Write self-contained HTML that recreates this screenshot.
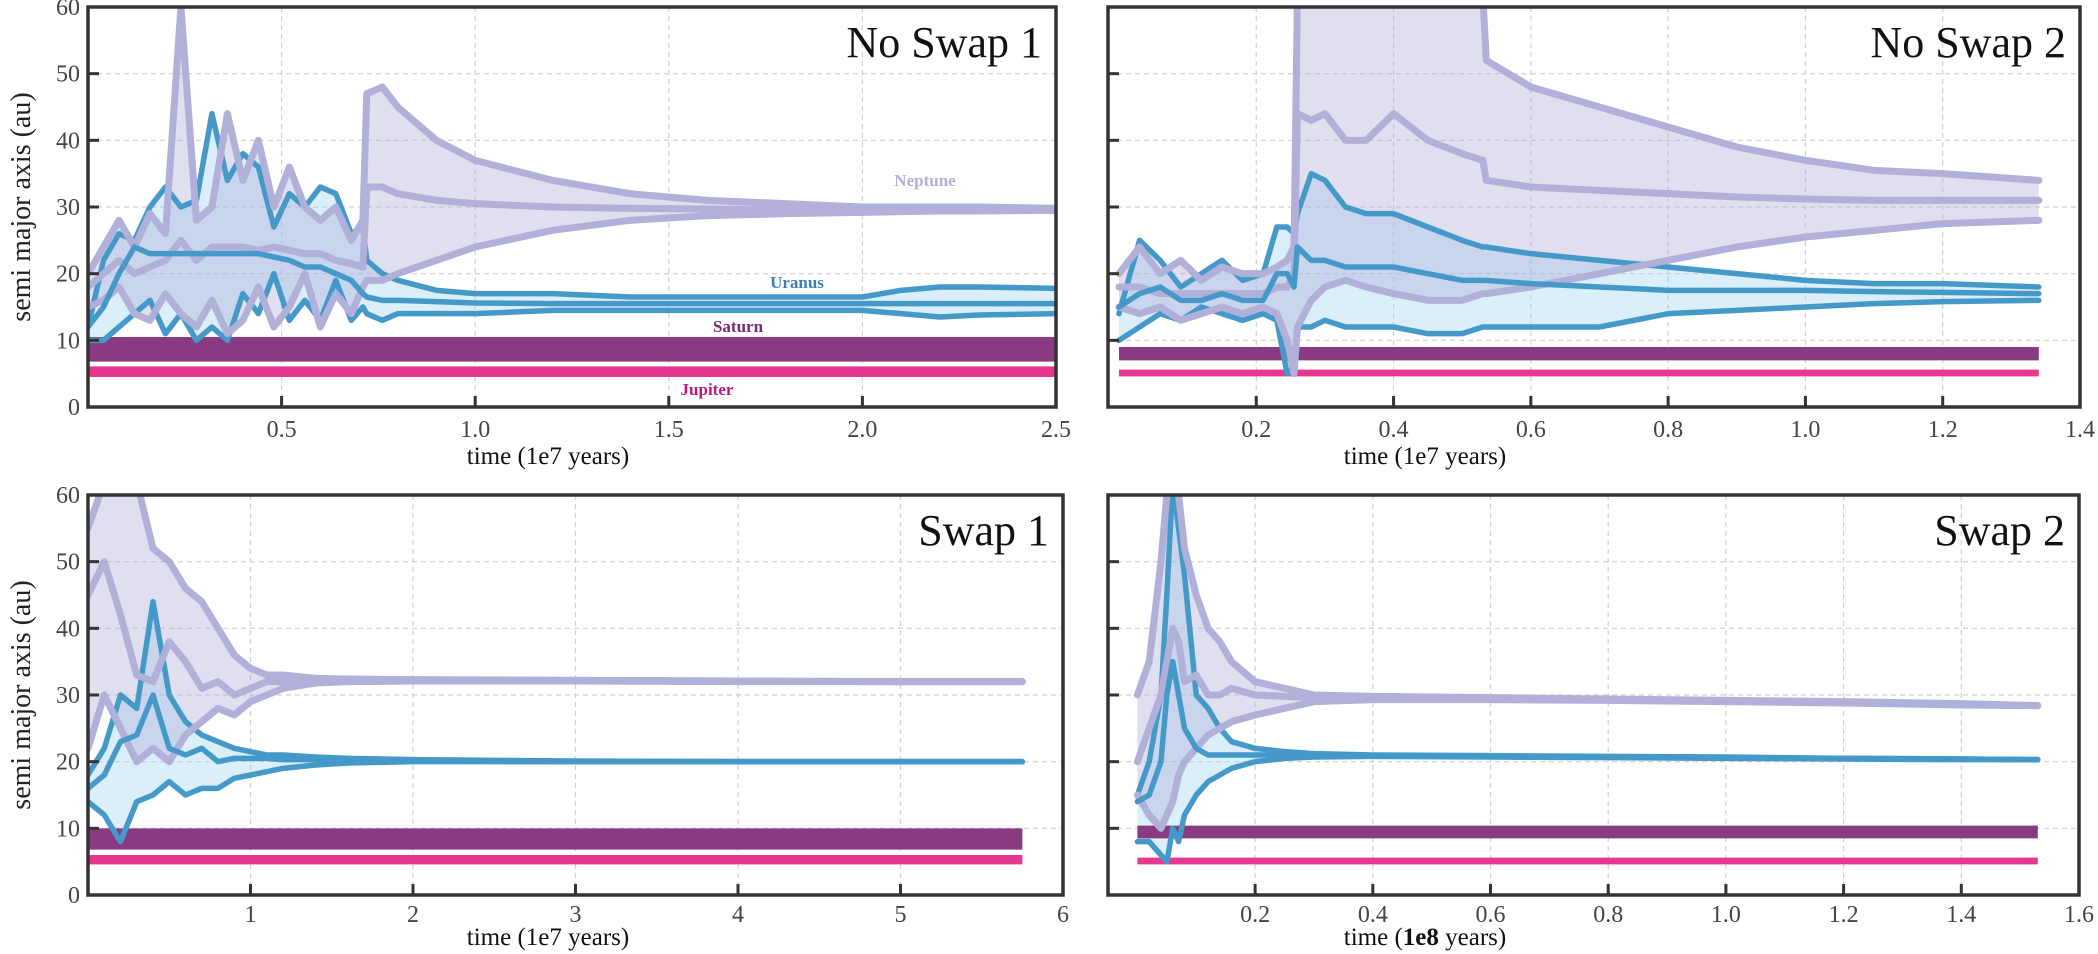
<!DOCTYPE html>
<html><head><meta charset="utf-8"><style>
html,body{margin:0;padding:0;background:#fff;}
svg{display:block;font-family:"Liberation Serif",serif;}
</style></head><body>
<svg id="fig" width="2098" height="954" viewBox="0 0 2098 954" xmlns="http://www.w3.org/2000/svg"></svg>
<script>
// ---------- Panel 1: No Swap 1 ----------
const t1 = [0,0.04,0.08,0.12,0.16,0.2,0.24,0.28,0.32,0.36,0.4,0.44,0.48,0.52,0.56,0.6,0.64,0.68,0.71,0.72,0.76,0.8,0.9,1.0,1.2,1.4,1.6,1.8,2.0,2.1,2.2,2.3,2.5];
const p1NepHi = [20,24,28,24,29,26,60,28,30,44,34,40,30,36,30,28,30,25,28,47,48,45,40,37,34,32,31,30.5,30,30,30,30,29.8];
const p1NepA  = [18,20,22,20,21,22,25,22,24,24,24,23.5,24,23.5,23,23,22,21.5,21,33,33,32,31,30.5,30,29.8,29.7,29.6,29.5,29.5,29.5,29.5,29.5];
const p1NepLo = [15,16,18,14,13,17,14,12,16,11,13,18,12,15,20,12,17,14,18,19,19,20,22,24,26.5,28,28.7,29,29.2,29.3,29.4,29.4,29.5];
const p1UraHi = [12,22,26,25,30,33,30,31,44,34,38,36,27,32,30,33,32,26,27,22,20,19,17.5,17,17,16.5,16.5,16.5,16.5,17.5,18,18,17.8];
const p1UraA  = [12,15,20,24,23,23,23,23,23,23,23,23,22.5,22,21,21,20,19,17,16.5,16,16,15.8,15.6,15.5,15.5,15.5,15.5,15.5,15.5,15.5,15.5,15.5];
const p1UraLo = [10,10,12,14,16,11,14,10,12,10,17,14,20,13,16,13,19,13,15,14,13,14,14,14,14.5,14.5,14.5,14.5,14.5,14,13.5,13.8,14];
const p1BandT = [0,2.5];
const p1SatHi = [10.5,10.5];
const p1SatLo = [6.8,6.8];
const p1JupHi = [6.1,6.1];
const p1JupLo = [4.5,4.5];
// ---------- Panel 2: No Swap 2 ----------
const t2 = [0,0.03,0.06,0.09,0.12,0.15,0.18,0.21,0.23,0.245,0.255,0.26,0.28,0.3,0.33,0.36,0.4,0.45,0.5,0.53,0.535,0.6,0.7,0.8,0.9,1.0,1.1,1.2,1.34];
const p2NepHi = [20,24,20,22,19,21,20,20,21,22,24,62,62,62,62,62,62,62,62,62,52,48,45,42,39,37,35.5,35,34];
const p2NepA  = [18,18,17,17,17,17,17,17,18,18,20,44,43,44,40,40,44,40,38,37,34,33,32.5,32,31.5,31.2,31,31,31];
const p2NepLo = [15,14,15,13,14,15,14,15,14,10,5,12,16,18,19,18,17,16,16,17,17,18,20,22,24,25.5,26.5,27.5,28];
const p2UraHi = [14,25,22,18,20,22,19,20,27,27,26,29,35,34,30,29,29,27,25,24,24,23,22,21,20,19,18.5,18.5,18];
const p2UraA  = [15,17,18,16,16,17,16,16,20,20,18,24,22,22,21,21,21,20,19,19,19,18.5,18,17.5,17.5,17.5,17.3,17.2,17];
const p2UraLo = [10,12,14,13,15,14,13,14,13,5,6,12,12,13,12,12,12,11,11,12,12,12,12,14,14.5,15,15.5,15.8,16];
const p2BandT = [0,1.34];
const p2SatHi = [9,9];
const p2SatLo = [7,7];
const p2JupHi = [5.6,5.6];
const p2JupLo = [4.6,4.6];
// ---------- Panel 3: Swap 1 ----------
const t3 = [0,0.1,0.2,0.3,0.4,0.5,0.6,0.7,0.8,0.9,1.0,1.1,1.2,1.4,1.6,2,3,4,5,5.75];
const p3NepHi = [55,62,62,62,52,50,46,44,40,36,34,33,33,32.5,32.4,32.3,32.2,32.1,32,32];
const p3NepA  = [45,50,42,33,32,38,35,31,32,30,31,32,32,32.3,32.3,32.2,32.2,32.1,32,32];
const p3NepLo = [22,30,25,20,22,20,24,26,28,27,29,30,31,31.8,32,32.1,32.1,32,32,32];
const p3UraHi = [18,22,30,28,44,30,26,24,23,22,21.5,21,21,20.7,20.5,20.3,20.1,20,20,20];
const p3UraA  = [16,18,23,24,30,22,21,22,20,20.5,20.5,20.5,20.3,20.3,20.2,20.1,20,20,20,20];
const p3UraLo = [14,12,8,14,15,17,15,16,16,17.5,18,18.5,19,19.5,19.8,20,20,20,20,20];
const p3BandT = [0,5.75];
const p3SatHi = [10,10];
const p3SatLo = [6.8,6.8];
const p3JupHi = [6,6];
const p3JupLo = [4.6,4.6];
// ---------- Panel 4: Swap 2 ----------
const t4 = [0,0.02,0.04,0.05,0.06,0.07,0.08,0.1,0.12,0.14,0.16,0.2,0.25,0.3,0.4,0.6,0.8,1.0,1.2,1.4,1.53];
const p4NepHi = [30,35,50,60,62,60,52,45,40,38,35,32,31,30,29.8,29.6,29.4,29.2,29,28.7,28.4];
const p4NepA  = [20,25,30,35,40,38,32,33,30,30,31,30,29.8,29.6,29.5,29.4,29.3,29.1,28.9,28.6,28.4];
const p4NepLo = [15,12,10,12,14,18,20,22,24,25,26,27,28,29,29.3,29.3,29.2,29,28.8,28.5,28.4];
const p4UraHi = [15,20,30,45,62,55,48,30,28,25,23,22,21.5,21.2,21,20.9,20.8,20.7,20.5,20.4,20.3];
const p4UraA  = [14,15,20,30,35,30,25,22,21,21,21,21,21,21,20.9,20.8,20.7,20.6,20.5,20.4,20.3];
const p4UraLo = [8,8,6,5,10,8,12,15,17,18,19,20,20.5,20.7,20.8,20.7,20.6,20.5,20.4,20.3,20.3];
const p4BandT = [0,1.53];
const p4SatHi = [10.4,10.4];
const p4SatLo = [8.5,8.5];
const p4JupHi = [5.6,5.6];
const p4JupLo = [4.6,4.6];
// ---------- ticks ----------
const yTicks = [0,10,20,30,40,50,60];
const xTicks1 = [0.5,1.0,1.5,2.0,2.5];
const xTickLabels1 = ["0.5","1.0","1.5","2.0","2.5"];
const xTicks2 = [0.2,0.4,0.6,0.8,1.0,1.2,1.4];
const xTickLabels2 = ["0.2","0.4","0.6","0.8","1.0","1.2","1.4"];
const xTicks3 = [1,2,3,4,5,6];
const xTickLabels3 = ["1","2","3","4","5","6"];
const xTicks4 = [0.2,0.4,0.6,0.8,1.0,1.2,1.4,1.6];
const xTickLabels4 = ["0.2","0.4","0.6","0.8","1.0","1.2","1.4","1.6"];

const NS="http://www.w3.org/2000/svg";
const svg=document.getElementById('fig');
function mk(tag,attrs,parent){const e=document.createElementNS(NS,tag);for(const k in attrs)e.setAttribute(k,attrs[k]);(parent||svg).appendChild(e);return e;}

const panels=[
 {id:'no-swap-1',title:'No Swap 1',x0:88,x1:1056,y0:7,y1:407,xmin:0,xmax:2.5,t:t1,nh:p1NepHi,na:p1NepA,nl:p1NepLo,uh:p1UraHi,ua:p1UraA,ul:p1UraLo,bt:p1BandT,sh:p1SatHi,sl:p1SatLo,jh:p1JupHi,jl:p1JupLo,xt:xTicks1,xl:xTickLabels1,ylab:true,xlabel:'time (1e7 years)',xlx:548,labels:true,tky:30,xly:57},
 {id:'no-swap-2',title:'No Swap 2',x0:1108,x1:2080,y0:7,y1:407,xmin:-0.016,xmax:1.4,t:t2,nh:p2NepHi,na:p2NepA,nl:p2NepLo,uh:p2UraHi,ua:p2UraA,ul:p2UraLo,bt:p2BandT,sh:p2SatHi,sl:p2SatLo,jh:p2JupHi,jl:p2JupLo,xt:xTicks2,xl:xTickLabels2,ylab:false,xlabel:'time (1e7 years)',xlx:1425,tky:30,xly:57},
 {id:'swap-1',title:'Swap 1',x0:88,x1:1063,y0:495,y1:895,xmin:0,xmax:6,t:t3,nh:p3NepHi,na:p3NepA,nl:p3NepLo,uh:p3UraHi,ua:p3UraA,ul:p3UraLo,bt:p3BandT,sh:p3SatHi,sl:p3SatLo,jh:p3JupHi,jl:p3JupLo,xt:xTicks3,xl:xTickLabels3,ylab:true,xlabel:'time (1e7 years)',xlx:548,tky:27,xly:50},
 {id:'swap-2',title:'Swap 2',x0:1108,x1:2079,y0:495,y1:895,xmin:-0.05,xmax:1.6,t:t4,nh:p4NepHi,na:p4NepA,nl:p4NepLo,uh:p4UraHi,ua:p4UraA,ul:p4UraLo,bt:p4BandT,sh:p4SatHi,sl:p4SatLo,jh:p4JupHi,jl:p4JupLo,xt:xTicks4,xl:xTickLabels4,ylab:false,xlabel:'time (1e8 years)',xlx:1425,bold:true,tky:27,xly:50}
];

panels.forEach((p,pi)=>{
 const g=mk('g',{});
 
 
 const X=v=>p.x0+(v-p.xmin)/(p.xmax-p.xmin)*(p.x1-p.x0);
 const Y=v=>p.y1-(v/60)*(p.y1-p.y0);
 const cp=mk('clipPath',{id:'clip'+pi},g);
 mk('rect',{x:p.x0,y:p.y0,width:p.x1-p.x0,height:p.y1-p.y0},cp);
 const grid=mk('g',{stroke:'#d0d0d0','stroke-width':1.2,'stroke-dasharray':'5,4'},g);
 
 
 p.xt.forEach(v=>{if(v<p.xmax)mk('line',{x1:X(v),x2:X(v),y1:p.y0,y2:p.y1},grid);});
 yTicks.forEach(v=>{if(v>0&&v<60)mk('line',{x1:p.x0,x2:p.x1,y1:Y(v),y2:Y(v)},grid);});
 const data=mk('g',{'clip-path':'url(#clip'+pi+')'},g);
 function band(ts,hi,lo,fill,name){
  let pts=ts.map((t,i)=>X(t)+','+Y(hi[i]));
  pts=pts.concat(ts.map((t,i)=>X(t)+','+Y(lo[i])).reverse());
  const e=mk('polygon',{points:pts.join(' '),fill:fill},data);
  
  
  return e;
 }
 function line(ts,vals,color,w,name){
  const e=mk('polyline',{points:ts.map((t,i)=>X(t)+','+Y(vals[i])).join(' '),fill:'none',stroke:color,'stroke-width':w,'stroke-linejoin':'round','stroke-linecap':'round'},data);
  
  
 }
 band(p.t,p.uh,p.ul,'rgba(150,210,240,0.35)','uranus-range-fill');
 band(p.t,p.nh,p.nl,'rgba(176,176,216,0.4)','neptune-range-fill');
 band(p.bt,p.sh,p.sl,'#8a3a82','saturn-band');
 band(p.bt,p.jh,p.jl,'#e8378f','jupiter-band');
 line(p.t,p.uh,'#4499c8',5.5,'uranus-aphelion');
 line(p.t,p.ul,'#4499c8',5.5,'uranus-perihelion');
 line(p.t,p.nh,'#b0b0d8',7,'neptune-aphelion');
 line(p.t,p.nl,'#b0b0d8',7,'neptune-perihelion');
 line(p.t,p.na,'#b0b0d8',7,'neptune-semi-major-axis');
 line(p.t,p.ua,'#4499c8',5.5,'uranus-semi-major-axis');
 const tk=mk('g',{stroke:'#333','stroke-width':3},g);
 p.xt.forEach(v=>{if(v<p.xmax)mk('line',{x1:X(v),x2:X(v),y1:p.y1,y2:p.y1-11},tk);});
 yTicks.forEach(v=>{if(v>0&&v<60)mk('line',{x1:p.x0,x2:p.x0+11,y1:Y(v),y2:Y(v)},tk);});
 const fr=mk('rect',{x:p.x0,y:p.y0,width:p.x1-p.x0,height:p.y1-p.y0,fill:'none',stroke:'#333','stroke-width':3.5},g);
 
 
 p.xt.forEach((v,i)=>{
  const t=mk('text',{x:X(v),y:p.y1+p.tky,'text-anchor':'middle','font-size':24,fill:'#444'},g);
  t.textContent=p.xl[i];
  
  
 });
 if(p.ylab){
  yTicks.forEach(v=>{
   const t=mk('text',{x:p.x0-8,y:Y(v)+8,'text-anchor':'end','font-size':24,fill:'#444'},g);
   t.textContent=String(v);
   
   
  });
  const cy=(p.y0+p.y1)/2;
  const yl=mk('text',{x:30,y:cy,'text-anchor':'middle','font-size':28,fill:'#222',transform:'rotate(-90 30 '+cy+')'},g);
  yl.textContent='semi major axis (au)';
  
  
 }
 const xl=mk('text',{x:p.xlx,y:p.y1+p.xly,'text-anchor':'middle','font-size':25,fill:'#111'},g);
 if(p.bold){xl.innerHTML='time (<tspan font-weight="bold">1e8</tspan> years)';}else{xl.textContent=p.xlabel;}
 
 
 const ti=mk('text',{x:p.x1-14,y:p.y0+50,'text-anchor':'end','font-size':44,fill:'#111'},g);
 ti.textContent=p.title;
 
 
 if(p.labels){
  [['Neptune',925,186,'#b0b0d8'],['Uranus',797,288,'#3f7fb8'],['Saturn',738,332,'#7a2a72'],['Jupiter',707,395,'#c0187a']].forEach(a=>{
   const t=mk('text',{x:a[1],y:a[2],'text-anchor':'middle','font-size':17,'font-weight':'bold',fill:a[3]},g);
   t.textContent=a[0];
   
   
  });
 }
});
</script>
</body></html>
